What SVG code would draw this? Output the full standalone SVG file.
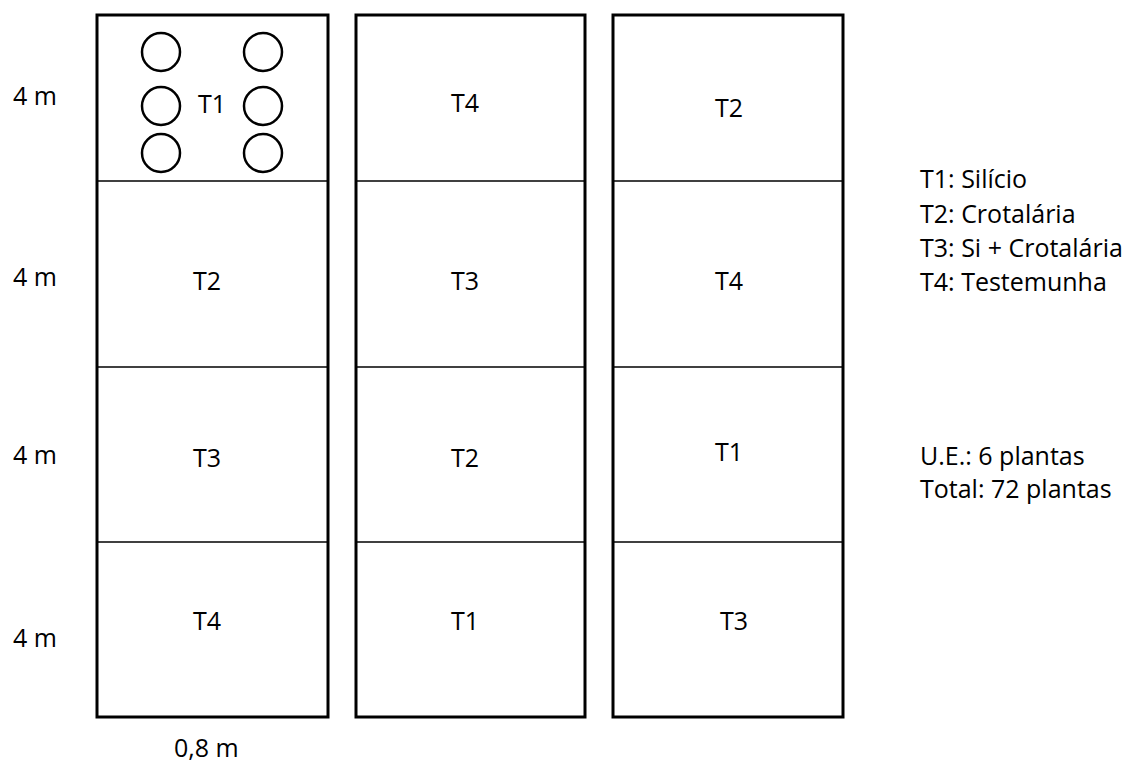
<svg xmlns="http://www.w3.org/2000/svg" width="1132" height="771" viewBox="0 0 1132 771">
<style>
text{font-family:"Open Sans","Liberation Sans",sans-serif;fill:#000}
.t{font-size:25px;text-anchor:middle}
.l{font-size:25px}
.g{font-size:25px}
.box{fill:#fff;stroke:#000;stroke-width:3}
.div{stroke:#000;stroke-width:1.3}
.c{fill:none;stroke:#000;stroke-width:2.5}
</style>
<rect width="1132" height="771" fill="#fff"/>
<g id="col1">
<rect class="box" x="97" y="15" width="231" height="702"/>
<line class="div" x1="97" y1="181" x2="328" y2="181"/>
<line class="div" x1="97" y1="367" x2="328" y2="367"/>
<line class="div" x1="97" y1="542" x2="328" y2="542"/>
<text class="t" x="212" y="113">T1</text>
<text class="t" x="207" y="290">T2</text>
<text class="t" x="207" y="467">T3</text>
<text class="t" x="207" y="630">T4</text>
<circle class="c" cx="161" cy="52" r="19"/>
<circle class="c" cx="161" cy="106" r="19"/>
<circle class="c" cx="161" cy="153" r="19"/>
<circle class="c" cx="263" cy="52" r="19"/>
<circle class="c" cx="263" cy="106" r="19"/>
<circle class="c" cx="263" cy="153" r="19"/>
</g>
<g id="col2">
<rect class="box" x="356" y="15" width="229" height="702"/>
<line class="div" x1="356" y1="181" x2="585" y2="181"/>
<line class="div" x1="356" y1="367" x2="585" y2="367"/>
<line class="div" x1="356" y1="542" x2="585" y2="542"/>
<text class="t" x="465" y="112">T4</text>
<text class="t" x="465" y="290">T3</text>
<text class="t" x="465" y="467">T2</text>
<text class="t" x="465" y="630">T1</text>
</g>
<g id="col3">
<rect class="box" x="613" y="15" width="230" height="702"/>
<line class="div" x1="613" y1="181" x2="843" y2="181"/>
<line class="div" x1="613" y1="367" x2="843" y2="367"/>
<line class="div" x1="613" y1="542" x2="843" y2="542"/>
<text class="t" x="729" y="117">T2</text>
<text class="t" x="729" y="290">T4</text>
<text class="t" x="729" y="461">T1</text>
<text class="t" x="734" y="630">T3</text>
</g>
<g id="labels">
<text class="l" x="13" y="105">4 m</text>
<text class="l" x="13" y="286">4 m</text>
<text class="l" x="13" y="464">4 m</text>
<text class="l" x="13" y="647">4 m</text>
<text class="l" x="174" y="757">0,8 m</text>
</g>
<g id="legend">
<text class="g" x="920" y="188">T1: Silício</text>
<text class="g" x="920" y="223">T2: Crotalária</text>
<text class="g" x="920" y="257">T3: Si + Crotalária</text>
<text class="g" x="920" y="291">T4: Testemunha</text>
<text class="g" x="920" y="465">U.E.: 6 plantas</text>
<text class="g" x="920" y="498">Total: 72 plantas</text>
</g>
</svg>
